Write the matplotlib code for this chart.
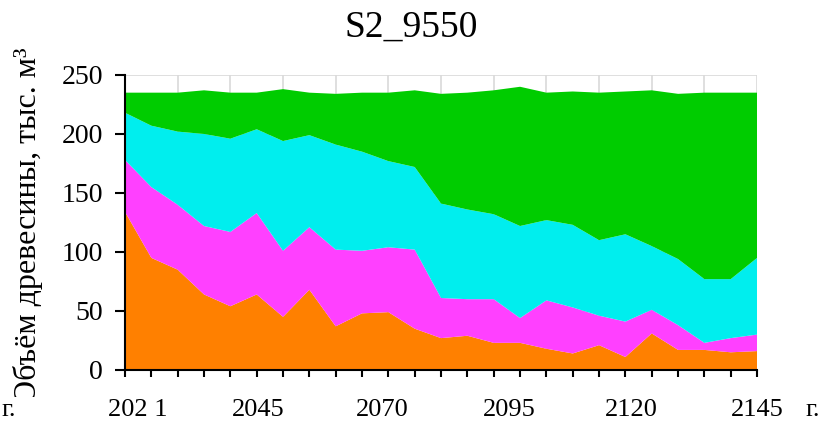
import matplotlib
matplotlib.use("Agg")
import matplotlib.pyplot as plt
from matplotlib.transforms import Bbox
import numpy as np

# data: volume by group, thousand m3, one value per 5-year step
steps = np.arange(25)
orange = [134, 95, 85, 64, 54, 64, 45, 68, 37, 48, 49, 35, 27, 29, 23, 23, 18, 14, 21, 11, 31, 17, 17, 15, 16]
magenta = [44, 60, 55, 58, 63, 69, 56, 53, 65, 53, 55, 67, 34, 31, 37, 21, 41, 39, 25, 30, 20, 21, 6, 12, 14]
cyan = [40, 52, 62, 78, 79, 71, 93, 78, 89, 84, 73, 70, 80, 76, 72, 78, 68, 70, 64, 74, 54, 56, 54, 50, 65]
green = [17, 28, 33, 37, 39, 31, 44, 36, 43, 50, 58, 65, 93, 99, 105, 118, 108, 113, 125, 121, 132, 140, 158, 158, 140]

year_labels = ["202 1", "2045", "2070", "2095", "2120", "2145"]
year_label_pos = [0.47, 5.06, 9.77, 14.6, 19.23, 24.0]

colors = ["#FF8000", "#FF40FF", "#00EEEE", "#00CC00"]

plt.rcParams["font.family"] = ["Liberation Serif", "DejaVu Serif"]

fig = plt.figure(figsize=(8.23, 4.24), dpi=100)
ax = fig.add_axes([0.1519, 0.1274, 0.768, 0.6958])

ax.stackplot(steps, orange, magenta, cyan, green, colors=colors, linewidth=0)

ax.set_xlim(0, 24)
ax.set_ylim(0, 250)
ax.set_yticks(np.arange(0, 251, 50))
ax.tick_params(axis="y", labelsize=20, length=7, width=1.5, pad=9, direction="out")
ax.set_xticks(steps)
ax.set_xticklabels([])
ax.tick_params(axis="x", length=5, width=1.5, direction="out")

# gridlines
ax.set_axisbelow(True)
for x in steps[::2]:
    ax.axvline(x, color="#D9D9D9", lw=1.2, zorder=0)
for y in np.arange(50, 251, 50):
    ax.axhline(y, color="#D9D9D9", lw=1.2, zorder=0)

ax.spines["top"].set_visible(False)
ax.spines["right"].set_visible(False)
ax.spines["left"].set_linewidth(1.5)
ax.spines["bottom"].set_linewidth(1.5)

for lab, pos in zip(year_labels, year_label_pos):
    ax.text(pos, -0.136, lab, transform=ax.get_xaxis_transform(),
            ha="center", va="center", fontsize=19)
fig.text(0.011, 0.034, "г.", ha="center", va="center", fontsize=19)
fig.text(0.988, 0.034, "г.", ha="center", va="center", fontsize=19)

# y label, cut at the bottom like in the original
ylab = fig.text(0.034, 0.468, "Объём древесины, тыс. м³", rotation=90,
                ha="center", va="center", fontsize=23)
ylab.set_clip_box(Bbox([[0, 27], [120, 424]]))
ylab.set_clip_on(True)

fig.text(0.5, 0.936, "S2_9550", ha="center", va="center", fontsize=27)

fig.savefig("out.png", dpi=100)
